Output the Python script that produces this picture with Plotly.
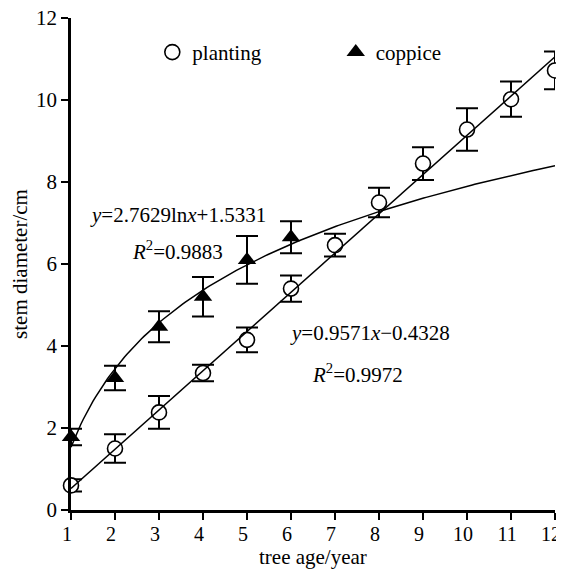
import numpy as np
import plotly.graph_objects as go

ages = [1, 2, 3, 4, 5, 6, 7, 8, 9, 10, 11, 12]
planting = [0.6, 1.5, 2.38, 3.34, 4.15, 5.4, 6.46, 7.5, 8.45, 9.28, 10.02, 10.72]
planting_err = [0.15, 0.35, 0.4, 0.2, 0.3, 0.32, 0.28, 0.36, 0.4, 0.52, 0.43, 0.46]
coppice_ages = [1, 2, 3, 4, 5, 6]
coppice = [1.78, 3.22, 4.47, 5.2, 6.1, 6.65]
coppice_err = [0.2, 0.3, 0.38, 0.48, 0.58, 0.39]

lin_a, lin_b = 0.9571, -0.4328
log_a, log_b = 2.7629, 1.5331

FONT = "Liberation Serif"
FS = 21

xf = np.linspace(1, 12, 200)
fig = go.Figure()

fig.add_trace(go.Scatter(
    x=ages, y=planting, mode="markers", name="planting", legend="legend",
    cliponaxis=False,
    marker=dict(symbol="circle", size=15, color="white", line=dict(color="black", width=1.6)),
    error_y=dict(type="data", array=planting_err, color="black", thickness=2, width=11),
))
fig.add_trace(go.Scatter(
    x=coppice_ages, y=coppice, mode="markers", name="coppice", legend="legend2",
    cliponaxis=False,
    marker=dict(symbol="triangle-up", size=16, color="black"),
    error_y=dict(type="data", array=coppice_err, color="black", thickness=2, width=11),
))
fig.add_trace(go.Scatter(
    x=xf, y=lin_a * xf + lin_b, mode="lines", showlegend=False,
    line=dict(color="black", width=1.5), hoverinfo="skip",
))
fig.add_trace(go.Scatter(
    x=xf, y=log_a * np.log(xf) + log_b, mode="lines", showlegend=False,
    line=dict(color="black", width=1.5), hoverinfo="skip",
))

ann_font = dict(family=FONT, size=FS, color="black")
fig.add_annotation(x=3.43, y=7.2, text="<i>y</i>=2.7629ln<i>x</i>+1.5331", showarrow=False, font=ann_font)
fig.add_annotation(x=3.43, y=6.34, text="<i>R</i><sup>2</sup>=0.9883", showarrow=False, font=ann_font)
fig.add_annotation(x=7.8, y=4.32, text="<i>y</i>=0.9571<i>x</i>−0.4328", showarrow=False, font=ann_font)
fig.add_annotation(x=7.5, y=3.34, text="<i>R</i><sup>2</sup>=0.9972", showarrow=False, font=ann_font)
# x-axis title
fig.add_annotation(x=0.5, y=0, xref="paper", yref="paper", yanchor="middle",
                   yshift=-47, text="tree age/year", showarrow=False, font=ann_font)

leg_common = dict(orientation="h", yanchor="middle", xanchor="left",
                  bgcolor="rgba(0,0,0,0)", font=dict(family=FONT, size=FS),
                  itemwidth=30)

fig.update_layout(
    width=556, height=562,
    margin=dict(l=63, r=9, t=10, b=60),
    plot_bgcolor="white", paper_bgcolor="white",
    font=dict(family=FONT, size=FS, color="black"),
    legend=dict(x=0.168, y=0.93, **leg_common),
    legend2=dict(x=0.547, y=0.93, **leg_common),
    xaxis=dict(range=[1, 12], tickvals=ages, showgrid=False, zeroline=False,
               showline=True, linecolor="black", linewidth=2.5, automargin=False,
               ticklabeloverflow="allow", ticklabelstandoff=-3, ticklabelshift=-4,
               ticks="outside", ticklen=7, tickwidth=2, tickcolor="black",
               tickfont=dict(size=20)),
    yaxis=dict(range=[0, 12], tickvals=[0, 2, 4, 6, 8, 10, 12], showgrid=False, zeroline=False,
               showline=True, linecolor="black", linewidth=2.5, automargin=False,
               ticklabeloverflow="allow",
               ticks="outside", ticklen=7, tickwidth=2, tickcolor="black",
               title=dict(text="stem diameter/cm", font=dict(size=FS))),
)

fig.write_html("out.html")
